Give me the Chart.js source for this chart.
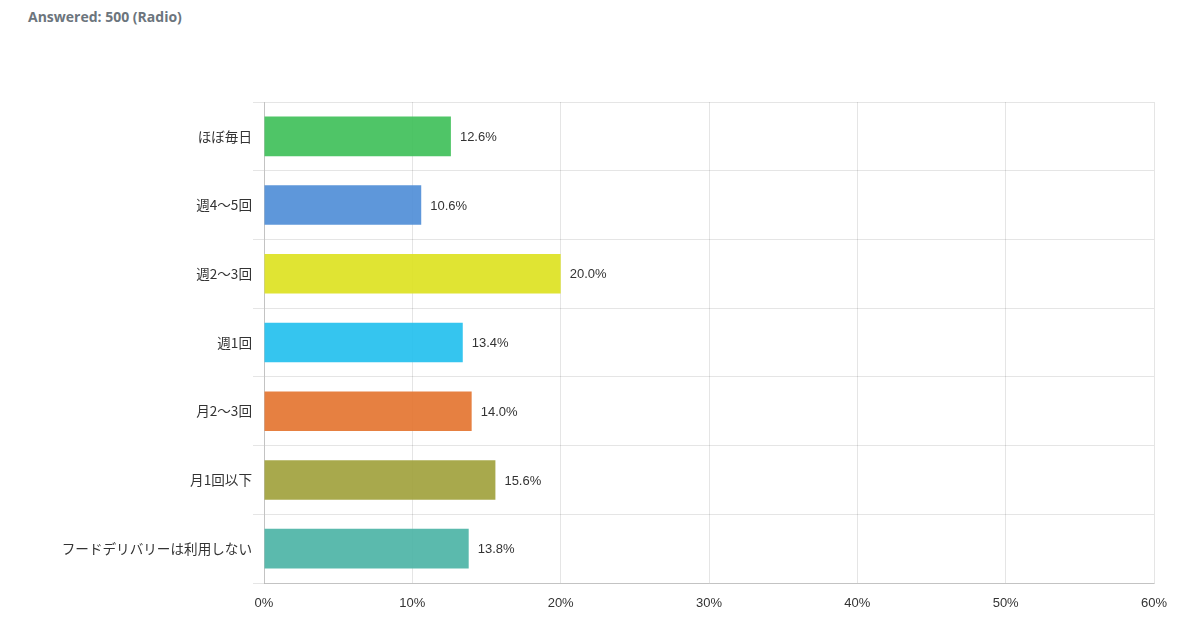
<!DOCTYPE html>
<html><head><meta charset="utf-8">
<script src="https://cdn.jsdelivr.net/npm/chart.js@4"></script>
<style>
html,body{margin:0;padding:0;background:#fff;width:1184px;height:628px;overflow:hidden;}
#title{position:absolute;left:28px;top:7px;font:bold 14px "Open Sans",sans-serif;color:#6c757d;}
#wrap{position:absolute;left:0;top:0;width:1184px;height:628px;}
</style></head>
<body>
<div id="title">Answered: 500 (Radio)</div>
<div id="wrap"><canvas id="c" width="1184" height="628"></canvas></div>
<script>
const categories = ["ほぼ毎日","週4～5回","週2～3回","週1回","月2～3回","月1回以下","フードデリバリーは利用しない"];
const values = [12.6, 10.6, 20.0, 13.4, 14.0, 15.6, 13.8];
const xTicks = [0,10,20,30,40,50,60];
const colors = ["rgba(64,192,90,0.92)","rgba(77,140,214,0.9)","rgba(221,226,34,0.92)","rgba(36,192,238,0.92)","rgba(227,114,44,0.9)","rgba(159,160,56,0.9)","rgba(73,178,164,0.9)"];

const labelPlugin = {
  id:'valLabels',
  afterDatasetsDraw(chart){
    const ctx = chart.ctx;
    const meta = chart.getDatasetMeta(0);
    ctx.save();
    ctx.font = '13px "Liberation Sans", Arial, sans-serif';
    ctx.fillStyle = '#333';
    ctx.textAlign = 'left';
    ctx.textBaseline = 'middle';
    meta.data.forEach((bar,i)=>{
      ctx.fillText(values[i].toFixed(1)+'%', bar.x + 9, bar.y + 1);
    });
    ctx.restore();
  }
};

new Chart(document.getElementById('c'), {
  type:'bar',
  data:{labels:categories, datasets:[{data:values, backgroundColor:colors, borderColor:colors, borderWidth:0, categoryPercentage:0.8, barPercentage:0.72}]},
  options:{
    indexAxis:'y', responsive:false, animation:false,
    layout:{padding:{top:102,right:30,left:0,bottom:0}},
    plugins:{legend:{display:false}, tooltip:{enabled:false}},
    scales:{
      x:{min:0,max:60,
        afterBuildTicks(s){ s.ticks = xTicks.map(v=>({value:v})); },
        afterFit(s){ s.height = 45; },
        grid:{color:'rgba(0,0,0,0.1)', drawTicks:false, tickLength:0},
        border:{color:'rgba(0,0,0,0.15)'},
        ticks:{padding:13, color:'#333', font:{size:13, family:'"Liberation Sans", Arial, sans-serif'}, callback:v=>v+'%'}
      },
      y:{
        afterFit(s){ s.width = 264; },
        grid:{color:'rgba(0,0,0,0.1)', offset:true, drawTicks:true, tickLength:11, tickColor:'rgba(0,0,0,0.1)'},
        border:{color:'rgba(0,0,0,0.15)'},
        ticks:{padding:1, color:'#333', font:{size:13.6, family:'"Noto Sans CJK JP", sans-serif'}}
      }
    }
  },
  plugins:[labelPlugin]
});
</script>
</body></html>
